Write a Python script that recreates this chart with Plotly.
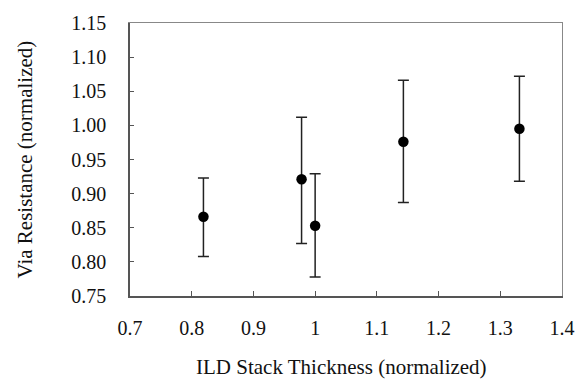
import plotly.graph_objects as go

thickness = [0.819, 0.978, 1.000, 1.143, 1.331]
resistance = [0.866, 0.921, 0.853, 0.976, 0.995]
err_upper = [0.923, 1.012, 0.929, 1.066, 1.072]
err_lower = [0.808, 0.827, 0.778, 0.887, 0.918]

x_ticks = [0.7, 0.8, 0.9, 1.0, 1.1, 1.2, 1.3, 1.4]
x_tick_labels = ["0.7", "0.8", "0.9", "1", "1.1", "1.2", "1.3", "1.4"]
y_ticks = [0.75, 0.80, 0.85, 0.90, 0.95, 1.00, 1.05, 1.10, 1.15]
y_tick_labels = ["0.75", "0.80", "0.85", "0.90", "0.95", "1.00", "1.05", "1.10", "1.15"]

plus = [u - r for u, r in zip(err_upper, resistance)]
minus = [r - l for r, l in zip(resistance, err_lower)]

FONT = "Liberation Serif"

fig = go.Figure()
fig.add_trace(go.Scatter(
    x=thickness, y=resistance, mode="markers",
    marker=dict(symbol="circle", size=10.5, color="black"),
    error_y=dict(type="data", symmetric=False, array=plus, arrayminus=minus,
                 color="#222222", thickness=1.5, width=5.5),
    showlegend=False,
))

fig.update_layout(
    width=587, height=382,
    margin=dict(l=130, r=21, t=13, b=86),
    paper_bgcolor="white", plot_bgcolor="white",
    font=dict(family=FONT, size=20, color="#111111"),
    xaxis=dict(range=[0.7, 1.4], tickvals=x_ticks, ticktext=x_tick_labels,
               ticks="inside", ticklen=5, tickcolor="#555555", tickwidth=1,
               showline=True, linecolor="#555555", linewidth=1.5, mirror=False,
               showgrid=False, zeroline=False, ticklabelstandoff=13),
    xaxis2=dict(overlaying="x", side="top", range=[0.7, 1.4], showline=True,
                linecolor="#888888", linewidth=1, showticklabels=False,
                showgrid=False, zeroline=False, ticks=""),
    yaxis=dict(range=[0.75, 1.15], tickvals=y_ticks, ticktext=y_tick_labels,
               ticks="inside", ticklen=4, tickcolor="#555555", tickwidth=1,
               showline=True, linecolor="#555555", linewidth=1.5,
               showgrid=False, zeroline=False, ticklabelstandoff=18),
    yaxis2=dict(overlaying="y", side="right", range=[0.75, 1.15], showline=True,
                linecolor="#888888", linewidth=1, showticklabels=False,
                showgrid=False, zeroline=False, ticks=""),
)
# invisible trace to activate the mirrored frame axes
fig.add_trace(go.Scatter(x=[None], y=[None], xaxis="x2", yaxis="y2", showlegend=False))

fig.add_annotation(text="ILD Stack Thickness (normalized)", xref="paper", yref="paper",
                   x=0.49, y=0, yshift=-71, showarrow=False,
                   font=dict(family=FONT, size=21), xanchor="center", yanchor="middle")
fig.add_annotation(text="Via Resistance (normalized)", xref="paper", yref="paper",
                   x=0, xshift=-106, y=0.5, textangle=-90, showarrow=False,
                   font=dict(family=FONT, size=21), xanchor="center", yanchor="middle")

fig.write_html("out.html")
